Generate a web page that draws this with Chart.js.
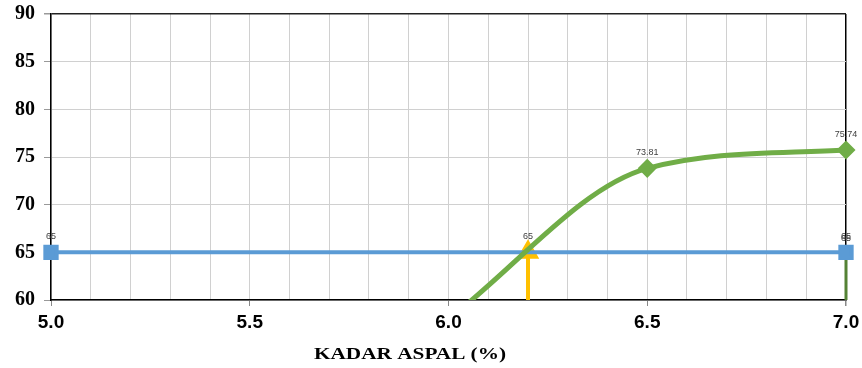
<!DOCTYPE html>
<html>
<head>
<meta charset="utf-8">
<script src="https://cdn.jsdelivr.net/npm/chart.js@4.4.1/dist/chart.umd.min.js"></script>
<style>
  html, body { margin: 0; padding: 0; background: #fff; }
  #wrap { width: 862px; height: 368px; }
</style>
</head>
<body>
<div id="wrap"><canvas id="chart"></canvas></div>
<script>
// data
const curveX = [6.0, 6.5, 7.0];
const curveY = [58.0, 73.81, 75.74];
const limitX = [5.0, 7.0];
const limitY = [65, 65];
const arrowX = [6.2, 6.2];
const arrowY = [60, 65];
const dropX = [7.0, 7.0];
const dropY = [65, 60];
const xLabels = [5.0, 5.5, 6.0, 6.5, 7.0];
const xTitle = 'KADAR ASPAL (%)';

const pts = (xs, ys) => xs.map((x, i) => ({ x, y: ys[i] }));

// small value labels above chosen points
const valueLabels = {
    id: 'valueLabels',
    afterDatasetsDraw(chart) {
        const ctx = chart.ctx;
        ctx.save();
        ctx.font = '9px "Liberation Sans", Arial, sans-serif';
        ctx.fillStyle = '#404040';
        ctx.textAlign = 'center';
        ctx.textBaseline = 'bottom';
        chart.data.datasets.forEach((ds, i) => {
            if (!ds.labelAt) return;
            const meta = chart.getDatasetMeta(i);
            ds.labelAt.forEach(j => {
                const p = meta.data[j];
                ctx.fillText(String(ds.data[j].y), p.x, p.y - 11 + (ds.labelShift || 0));
            });
        });
        ctx.restore();
    }
};

// axis title drawn a bit left of plot centre and a bit wide, as in the original
const axisTitle = {
    id: 'axisTitle',
    afterDraw(chart) {
        const ctx = chart.ctx;
        ctx.save();
        ctx.translate(410, 355);
        ctx.scale(1.25, 1);
        ctx.font = 'bold 17px "Liberation Serif", "Times New Roman", serif';
        ctx.fillStyle = '#000';
        ctx.textAlign = 'center';
        ctx.textBaseline = 'middle';
        ctx.fillText(xTitle, 0, 0);
        ctx.restore();
    }
};

const clip = { left: 12, right: 12, top: 0, bottom: 0 };

new Chart(document.getElementById('chart'), {
    type: 'line',
    data: {
        datasets: [
            {
                data: pts(curveX, curveY),
                borderColor: '#70AD47',
                backgroundColor: '#70AD47',
                borderWidth: 5,
                cubicInterpolationMode: 'monotone',
                pointStyle: 'rectRot',
                pointRadius: [0, 6, 6],
                clip,
                labelAt: [1, 2]
            },
            {
                data: pts(limitX, limitY),
                borderColor: '#5B9BD5',
                backgroundColor: '#5B9BD5',
                borderWidth: 4,
                pointStyle: 'rect',
                pointRadius: 8,
                clip,
                labelAt: [0, 1]
            },
            {
                data: pts(arrowX, arrowY),
                borderColor: '#FFC000',
                backgroundColor: '#FFC000',
                borderWidth: 4,
                pointStyle: 'triangle',
                pointRadius: [0, 9],
                clip,
                labelAt: [1]
            },
            {
                data: pts(dropX, dropY),
                borderColor: '#548235',
                backgroundColor: '#548235',
                borderWidth: 3,
                pointStyle: 'crossRot',
                pointRadius: [5, 0],
                pointBorderWidth: 1,
                clip,
                labelAt: [0],
                labelShift: 2
            }
        ]
    },
    options: {
        responsive: true,
        maintainAspectRatio: false,
        animation: false,
        layout: { padding: { top: 14, right: 16, left: 0, bottom: 0 } },
        plugins: {
            legend: { display: false },
            tooltip: { enabled: false }
        },
        scales: {
            x: {
                type: 'linear',
                min: 5,
                max: 7,
                afterFit: s => { s.height = 68; s.paddingLeft = 0; s.paddingRight = 0; },
                border: { color: '#000', width: 1.5 },
                grid: {
                    color: c => Math.abs(c.tick.value - 7) < 1e-6 ? '#000' : '#d0d0d0',
                    lineWidth: c => Math.abs(c.tick.value - 7) < 1e-6 ? 1.5 : 1,
                    tickLength: 6,
                    tickColor: c => xLabels.includes(Math.round(c.tick.value * 10) / 10) ? '#888' : 'rgba(0,0,0,0)'
                },
                ticks: {
                    stepSize: 0.1,
                    autoSkip: false,
                    maxRotation: 0,
                    padding: 5,
                    color: '#000',
                    font: { family: '"Liberation Sans", Arial, sans-serif', size: 19, weight: 'bold' },
                    callback: v => {
                        const r = Math.round(v * 10) / 10;
                        return xLabels.includes(r) ? r.toFixed(1) : '';
                    }
                }
            },
            y: {
                min: 60,
                max: 90,
                afterFit: s => { s.width = 51; s.paddingTop = 0; s.paddingBottom = 0; },
                border: { color: '#000', width: 1.5 },
                grid: {
                    color: c => c.tick.value === 90 ? '#222' : '#d0d0d0',
                    lineWidth: c => c.tick.value === 90 ? 1.5 : 1,
                    tickLength: 7,
                    tickColor: '#999'
                },
                ticks: {
                    stepSize: 5,
                    padding: 9,
                    color: '#000',
                    font: { family: '"Liberation Serif", "Times New Roman", serif', size: 20, weight: 'bold' }
                }
            }
        }
    },
    plugins: [valueLabels, axisTitle]
});
</script>
</body>
</html>
